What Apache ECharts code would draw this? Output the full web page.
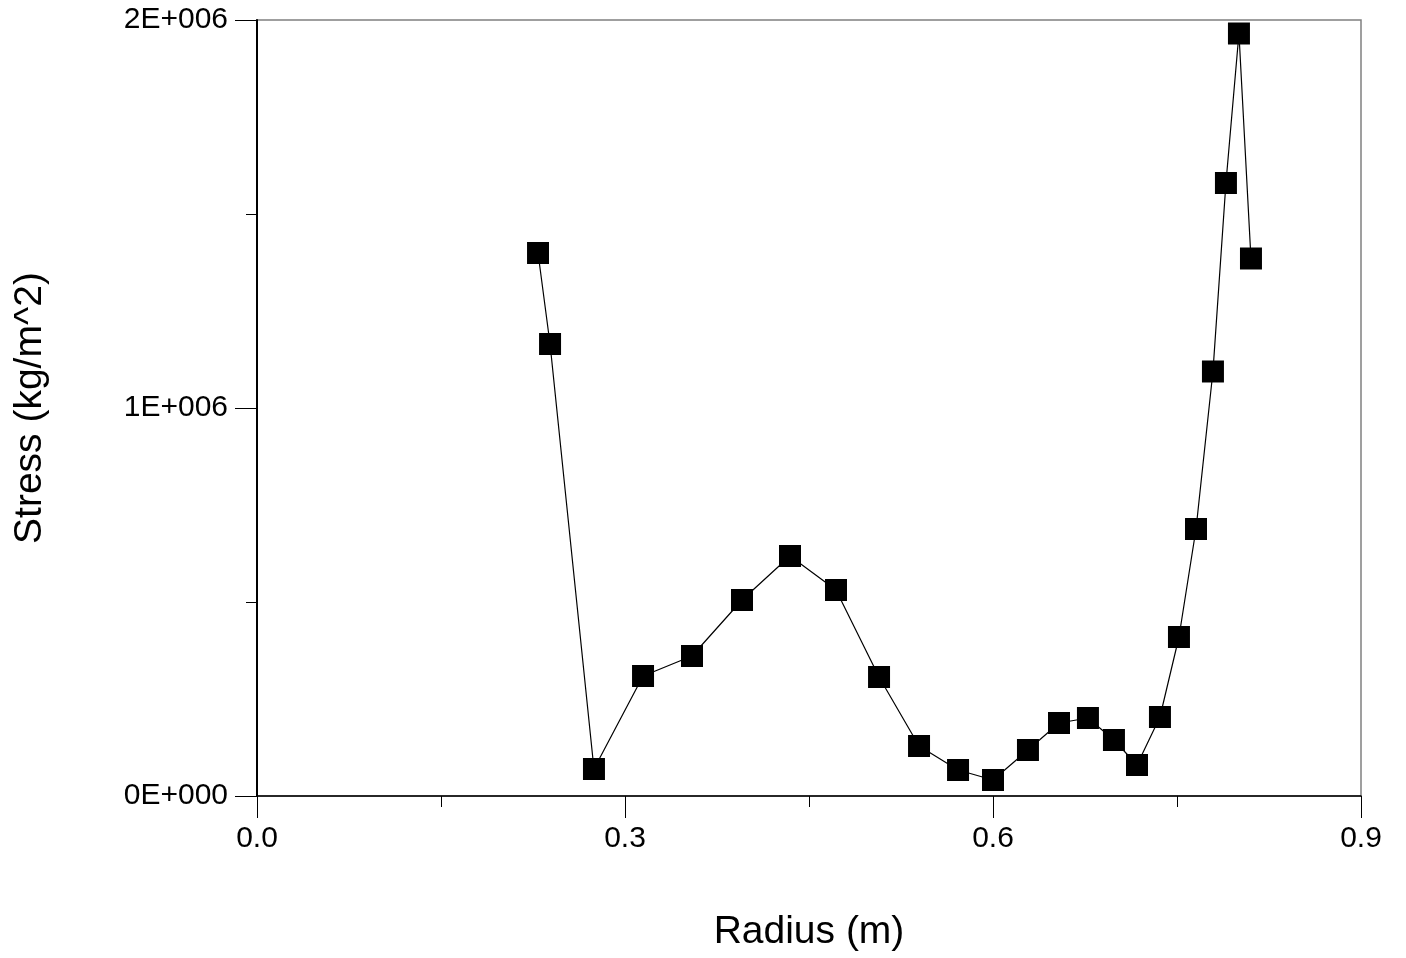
<!DOCTYPE html>
<html>
<head>
<meta charset="utf-8">
<script src="https://cdn.jsdelivr.net/npm/echarts@6/dist/echarts.min.js"></script>
<style>
html,body{margin:0;padding:0;background:#fff;}
#chart{width:1406px;height:958px;}
</style>
</head>
<body>
<div id="chart"></div>
<script>
const radius = [0.2291,0.2389,0.2747,0.3147,0.3546,0.3954,0.4345,0.4720,0.5071,0.5397,0.5715,0.6000,0.6285,0.6538,0.6774,0.6986,0.7174,0.7361,0.7516,0.7655,0.7793,0.7899,0.8005,0.8103];
const stress = [1399500,1164900,69600,309300,360800,505200,618600,530900,306700,128900,67000,41200,118600,188100,201000,144300,79900,203600,409800,688100,1094100,1579900,1965200,1385300];
const xTicks = ['0.0','0.3','0.6','0.9'];
const yTicks = ['0E+000','1E+006','2E+006'];

const font = 'Liberation Sans, Arial, sans-serif';
const chart = echarts.init(document.getElementById('chart'), null, {renderer:'canvas'});
chart.setOption({
  animation:false,
  backgroundColor:'#fff',
  grid:{left:257,right:45,top:20,bottom:162,show:true,borderColor:'#808080',borderWidth:1.5,backgroundColor:'transparent',outerBoundsMode:'none',containLabel:false},
  xAxis:{
    type:'value',min:0,max:0.9,interval:0.3,
    name:'Radius (m)',nameLocation:'middle',nameGap:117,
    nameTextStyle:{fontFamily:font,fontSize:39,color:'#000'},
    axisLine:{show:true,lineStyle:{color:'#000',width:1.5}},
    axisTick:{show:true,length:22,lineStyle:{color:'#000',width:1}},
    minorTick:{show:true,splitNumber:2,length:11,lineStyle:{color:'#000',width:1}},
    splitLine:{show:false},
    axisLabel:{fontFamily:font,fontSize:30,color:'#000',margin:28,
      formatter:function(v){return xTicks[Math.round(v/0.3)];}}
  },
  yAxis:{
    type:'value',min:0,max:2000000,interval:1000000,
    name:'Stress (kg/m^2)',nameLocation:'middle',nameGap:207,nameRotate:90,
    nameTextStyle:{fontFamily:font,fontSize:39,color:'#000'},
    axisLine:{show:true,lineStyle:{color:'#000',width:2}},
    axisTick:{show:true,length:22,lineStyle:{color:'#000',width:1}},
    minorTick:{show:true,splitNumber:2,length:11,lineStyle:{color:'#000',width:1}},
    splitLine:{show:false},
    axisLabel:{fontFamily:font,fontSize:30,color:'#000',margin:29,
      formatter:function(v){return yTicks[Math.round(v/1000000)];}}
  },
  series:[{
    type:'line',
    data:radius.map((r,i)=>[r,stress[i]]),
    symbol:'rect',symbolSize:22,
    showAllSymbol:true,
    itemStyle:{color:'#000'},
    lineStyle:{color:'#000',width:1.2}
  }]
});
</script>
</body>
</html>
